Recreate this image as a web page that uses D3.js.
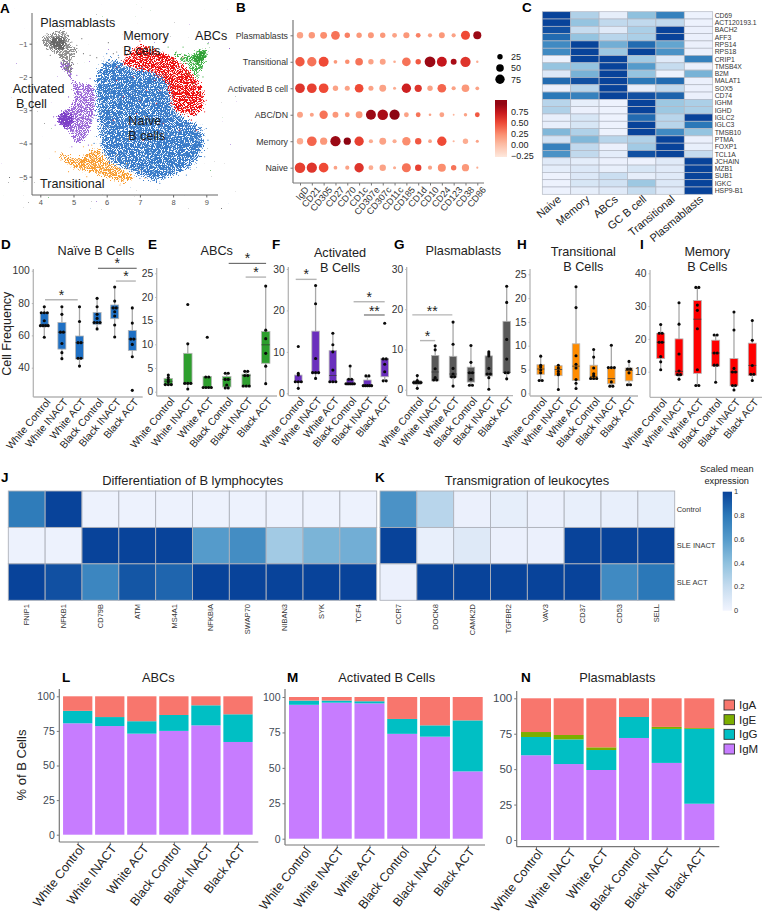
<!DOCTYPE html>
<html><head><meta charset="utf-8">
<script src="https://cdnjs.cloudflare.com/ajax/libs/d3/7.8.5/d3.min.js"></script>
<style>html,body{margin:0;padding:0;background:#fff}svg{display:block}text{font-family:"Liberation Sans",Arial,sans-serif}</style>
</head><body><svg id="c" width="764" height="918"></svg>
<script>
// ---------- DATA ----------
// A: hand-read outlines of each UMAP cluster (data coordinates) and hand-read stray cells
const umapBlue=[[5.65,-1.99],[5.9,-1.49],[6.25,-1.44],[6.7,-1.65],[7.3,-1.75],[7.9,-2.1],[8.0,-2.6],[8.1,-3.0],[8.4,-3.2],[8.91,-3.6],[8.96,-4.1],[8.71,-4.6],[8.11,-4.95],[7.4,-5.15],[6.8,-4.9],[6.0,-4.5],[5.8,-4.1],[5.7,-3.2]];
const umapRed=[[6.4,-1.62],[6.7,-1.19],[7.05,-.99],[7.6,-1.19],[8.1,-1.39],[8.71,-1.99],[8.96,-2.39],[8.86,-3.1],[8.5,-3.2],[8.0,-3.0],[7.85,-2.6],[7.75,-2.2],[7.3,-1.9],[6.7,-1.75]];
const umapGreen=[[7.9,-1.19],[8.5,-1.29],[8.81,-1.09],[9.06,-1.19],[8.91,-1.79],[8.71,-2.09],[8.41,-1.69]];
const umapOrange=[[4.49,-4.2],[5.09,-4.4],[5.7,-4.1],[6.1,-4.5],[6.9,-5],[6.6,-5.2],[5.6,-4.95],[4.94,-4.75],[4.55,-4.4]];
const umapPurple=[[4.54,-1.59],[4.94,-1.54],[5.04,-2.09],[5.6,-2.24],[5.65,-3.1],[5.35,-3.9],[5.04,-4.0],[4.8,-3.6],[4.5,-3.4],[4.55,-3.1],[4.94,-2.8],[4.9,-2.1]];
const umapGrey=[[4.04,-.79],[4.8,-.59],[4.95,-1],[5.2,-1.19],[5.04,-1.34],[4.94,-1.89],[4.74,-1.84],[4.54,-1.39],[4.09,-1.09]];
const umapGreyCore=[[4.3,-.85],[4.7,-.8],[4.75,-1.15],[4.5,-1.2],[4.3,-1.05]];
const umapPurpleCore=[[4.55,-3.1],[4.9,-3.05],[5.0,-3.4],[4.75,-3.55],[4.55,-3.4]];
const umapGreenCore=[[8.6,-1.4],[8.85,-1.2],[9.02,-1.22],[8.9,-1.55],[8.7,-1.6]];
const straysGrey=[[5.3,-1.3],[5.5,-1.35],[5.7,-1.42],[5.25,-.85],[6.05,-.97],[6.2,-1.3],[6.3,-1.25],[6.36,-1.42],[4.3,-1.35],[4.2,-.7],[4.95,-.95],[5.1,-1.05],[4.62,-1.55],[4.85,-1.95],[5.0,-1.62]];
const straysPurple=[[4.72,-1.5],[5.1,-1.95],[5.7,-2.6],[5.72,-3.3],[5.5,-2.05],[4.85,-2.6],[4.4,-3.2],[4.45,-3.45],[5.45,-4.05],[4.95,-4.1]];
const straysOrange=[[4.45,-4.25],[4.62,-4.5],[4.85,-4.85],[5.3,-4.1],[5.55,-4.05],[6.3,-4.35],[6.6,-4.6],[7.0,-4.8],[7.15,-5.05],[6.4,-5.25],[5.9,-5.1],[5.4,-5.0]];
const straysRed=[[6.3,-1.7],[6.55,-1.35],[8.3,-1.4],[9.0,-2.7],[8.95,-3.05],[7.2,-2.4],[6.9,-3.1],[7.5,-2.8],[7.0,-.92],[8.55,-3.3],[8.7,-3.6],[6.3,-2.1],[7.1,-3.9],[7.7,-3.4],[6.5,-2.6],[6.2,-3.3],[7.3,-3.3],[7.6,-2.4],[6.8,-2.0],[8.2,-3.6],[7.0,-2.7],[7.45,-2.1]];
const straysGreen=[[7.85,-1.1],[8.1,-1.25],[8.0,-1.5],[8.3,-1.1],[8.9,-2.0],[8.6,-2.2],[8.8,-2.45],[9.05,-1.0],[8.45,-1.9]];
const straysBlue=[[5.6,-2.4],[5.55,-3.3],[5.62,-4.0],[6.0,-1.3],[6.35,-1.35],[9.0,-3.55],[9.05,-3.9],[8.95,-4.4],[8.4,-4.95],[7.6,-5.2],[7.0,-5.05],[8.7,-3.15],[8.2,-2.9],[8.4,-2.6],[7.9,-2.2],[8.6,-3.0]];

// B
const dotGenes=["IgD","CD21","CD305","CD27","CD70","CD1c","CD307e","CD307c","CD11c","CD185","CD1d","CD10","CD24","CD123","CD38","CD86"];
const dotCells=["Plasmablasts","Transitional","Activated B cell","ABC/DN","Memory","Naive"];
const dotPct=[[35,35,40,65,25,25,30,25,20,32,20,15,30,15,70,55],[75,75,85,12,18,50,25,30,6,65,25,100,85,30,90,5],[80,80,80,25,22,65,22,40,8,75,45,25,65,15,50,12],[30,14,60,30,20,40,85,95,90,20,20,6,20,3,10,20],[35,80,45,90,45,75,15,40,15,60,35,12,75,4,25,8],[95,90,80,12,15,75,20,35,8,70,35,15,55,25,45,4]];
const dotVal=[[.15,.2,.25,.35,.3,.2,.2,.2,.15,.2,.3,.15,.2,.15,.5,.9],[.45,.35,.5,.2,.25,.35,.15,.15,.1,.35,.45,.9,.75,.85,.6,.1],[.6,.55,.5,.15,.15,.5,.15,.15,.1,.7,.6,.15,.4,.15,.2,.15],[.15,.15,.35,.2,.2,.2,.9,.85,.95,.15,.35,.15,.15,.05,.15,.45],[.1,.4,.2,.9,.95,.55,.1,.15,.1,.25,.45,.15,.5,.05,.1,.15],[.55,.6,.5,.15,.15,.6,.1,.15,.1,.35,.55,.15,.25,.35,.2,.1]];
const sizeLegend=[25,50,75];
const colorLegend=[.75,.5,.25,0,-.25];

// C
const cCols=["Naive","Memory","ABCs","GC B cell","Transitional","Plasmablasts"];
const cGenes=["CD69","ACT120193.1","BACH2","AFF3","RPS14","RPS18","CRIP1","TMSB4X","B2M","MALAT1","SOX5","CD74","IGHM","IGHD","IGLC2","IGLC3","TMSB10","PTMA","FOXP1","TCL1A","JCHAIN","MZB1","SUB1","IGKC","HSP9-B1"];
const cVals=[[1,.28,.05,.4,.75,.02],[1,.38,.22,.22,.22,.02],[.95,.2,.08,.3,1,.03],[.85,.38,.25,.3,1,.03],[.7,1,.5,.85,.55,.03],[.7,1,.35,1,.65,.03],[.02,1,1,.33,.08,.75],[.38,.38,1,.6,.2,.03],[.1,.48,1,.38,.02,.48],[.85,.95,1,.8,.85,.03],[.03,.25,1,.05,.22,.03],[.8,.75,1,.95,.88,.03],[.25,.05,.02,1,.35,.3],[.28,.03,.02,1,.35,.3],[.04,.12,.02,.85,.25,1],[.04,.12,.02,1,.25,.8],[.45,.28,.02,1,.7,.38],[.14,.45,.25,.28,1,.03],[.75,.22,.03,.33,1,.04],[.65,.22,.06,.95,1,.2],[.08,.06,.03,.02,.08,1],[.06,.1,.04,.12,.08,1],[.02,.1,.18,.05,.08,1],[.02,.12,.15,.35,.1,1],[.02,.05,.08,.2,.08,1]];

// D-I: each box [low whisker, q1, median, q3, high whisker, points]
const groups=["White Control","White INACT","White ACT","Black Control","Black INACT","Black ACT"];
const naiveBoxes=[[58.8,65.5,66.8,74,77.7,[77.7,74,74,74,69,66,66,66,66,58.8]],[45.6,51.5,62,68,77.7,[77.7,73,62,62,55,49.3,45.6]],[41,45.4,55.5,59.6,77.7,[77.7,68.6,55.5,55.5,45.8,45.8,41]],[64,66.8,68,74.2,82.9,[82.9,77.7,73,70.5,68,68,68,64]],[59,70.3,77,78.8,89.9,[89.9,81.2,77,77,74.6,72,66.4,59]],[46.8,50.7,57.7,63,77,[77,67.6,57.7,57.7,54.4,46.8,26]]];
const abcBoxes=[[1.4,1.4,2.2,2.8,3.5,[3.5,3,2.5,2.1,1.5,1.5,1.5]],[.56,1.55,1.76,8.1,10.1,[18.4,10.1,1.76,1.76,1.76,.56]],[.85,.85,.9,3.2,3.2,[11.5,3.1,3.1,.9,.9,.9,.9]],[.8,1,2.6,3.2,3.9,[3.9,3.9,2.6,2.6,1.4,.8,.8]],[1,1,3.4,3.7,4.3,[4.3,4.3,3.4,3.4,1.2,1.2,1.2]],[1.7,6,9.9,12.7,22.3,[22.3,13,11.2,8.1,5.4,1.7]]];
const actBoxes=[[1.2,2.65,2.8,4.4,4.8,[11.3,4.8,4.4,2.8,2.8,2.8,1.2]],[3.6,4.7,5,15,26,[26,21.6,8.4,5,5,5,3.6]],[2.8,2.65,4.3,10.3,14.5,[14.5,11.7,10,5.6,2.8,2.8,2.8]],[2,2,2.3,3.4,6.6,[6.6,3.4,3.4,2.3,2.3,2.3,2.3,2.3]],[1.7,1.7,1.85,3.2,4.2,[4.2,4.2,1.85,1.85,1.85,1.85,1.85]],[3,4,8.2,8.4,8.4,[16.9,8.3,8.3,7,5.2,3,3]]];
const plasmaBoxes=[[.33,1.3,1.8,2.3,3.5,[3.5,2.3,1.8,1.8,1.8,1.8,.33]],[2.4,2.2,4.4,8.5,10.9,[10.9,9.9,5.2,3,2.4,2.4]],[.9,3.1,3.9,8.3,16.8,[16.8,11.3,5.3,3.9,3.2,3.2,.9]],[1.1,1.9,4.2,5.6,11,[11,6.8,4.2,4.2,2.6,1.1,1.1]],[.1,3.4,3.9,8.4,9.4,[9.4,8.9,8.4,5.3,3.9,3.9,3,.1]],[2.7,4.2,4.3,17,25.7,[25.7,21.7,12.5,7.6,4.2,4.2,2.7]]];
const transBoxes=[[2.7,4,5.1,6,7.8,[7.8,5.9,5.5,4.9,4.3,2.7,2.7]],[.8,3.7,5,5.8,5.8,[5.9,5.3,4.6,4.1,3.9,.8]],[1,2.7,5.7,10.4,22.4,[22.4,18,7.9,6.1,5.3,2.9,2.1,1]],[2.9,2.9,3.5,5.9,9.2,[9.2,7.6,5.3,4.1,3.7,3.1,3.1,3.1]],[1.5,2,3.1,5.3,10.1,[10.1,5.4,5.4,5.4,2.4,1.5,1.5]],[1.8,2.6,4.8,5.3,6.7,[6.7,5.1,5.1,4.3,1.8,1.8]]];
const memBoxes=[[10.6,14,19,21.7,24.4,[24.4,21.7,21.7,19,19,14.6,13,10.6]],[7.7,8.9,10.1,20,31,[31,24.5,15.4,10.2,9.1,9.1,7.7]],[5.8,9.5,26,31.7,35.7,[35.7,35.7,30.3,28.7,23.1,10.6,5.8,5.8]],[6.8,11.7,15.7,19.6,21.2,[21.2,21.2,15.7,15.7,12,12,6.8]],[4.4,5.7,9.9,14,28.2,[28.2,22.7,11,9.9,9.9,5.8,5.8,4.4]],[7.3,8.9,11.9,18.7,25.6,[25.6,19.6,11.9,9.2,9.2,7.3]]];
// significance bars: [from group position, to group position, y value, label, dark?]
const naiveSig=[[.04,1.9,82,"*",0],[3.05,5.25,101.5,"*",1],[4.07,5.2,93.6,"*",0]];
const abcSig=[[3.1,5.02,27.1,"*",1],[3.97,5.02,24.2,"*",0]];
const actSig=[[-.15,1.06,27.5,"*",0],[3.2,5,22.1,"*",0],[3.8,5,18.9,"**",1]];
const plasmaSig=[[-.28,1.96,18.6,"**",0],[.15,1,12.2,"*",0]];

// J, K
const jGenes=["FNIP1","NFKB1","CD79B","ATM","MS4A1","NFKBIA","SWAP70","NIBAN3","SYK","TCF4"];
const jVals=[[.78,1,.02,.02,.02,.02,.02,.02,.02,.02],[.02,.02,1,1,1,.6,.68,.33,.47,.5],[1,.95,.72,.93,.87,1,1,1,1,1]];
const kGenes=["CCR7","DOCK8","CAMK2D","TGFBR2","VAV3","CD37","CD53","SELL"];
const kVals=[[.65,.25,.03,.05,.03,.04,.04,.05],[1,.04,.09,.03,.03,1,1,1],[.03,1,1,1,1,1,.7,.8]];
const sleRows=["Control","SLE INACT","SLE ACT"];
const heatTicks=[0,.2,.4,.6,.8,1];

// L, M, N: share of B cells per isotype
const isotypes=["IgA","IgE","IgG","IgM"];
const isoColors=["#F8766D","#7CAE00","#00BFC4","#C77CFF"];
const abcIgM=[80.5,78.5,73,75,79,67], abcIgG=[9,6.5,9,11.5,14.5,20], abcIgE=[0,0,0,0,0,0];
const actIgM=[94.5,96,95.5,74,72,47.5], actIgG=[3,1.5,1.5,10.5,8,36], actIgE=[0,0,0,0,0,0];
const plaIgM=[59.8,53.6,49.4,72,54.4,25.6], plaIgG=[12.9,17.4,14.1,14.8,24,52.8], plaIgE=[3.5,3.1,1.9,0,1.4,.6];

// ---------- DRAW ----------
const svg=d3.select("#c"), defs=svg.append("defs");
const txt=(x,y,s,o={})=>{const t=svg.append("text").attr("x",x).attr("y",y).text(s).attr("font-size",o.fs||10).attr("fill",o.fill||"#222").attr("text-anchor",o.a||"start");
  if(o.w)t.attr("font-weight",o.w); if(o.rot!=null)t.attr("transform",`rotate(${o.rot},${x},${y})`); if(o.dy)t.attr("dy",o.dy); return t;};
[["A",0,13],["B",236,12],["C",522,12],["D",1,249],["E",148,249],["F",272,249],["G",394,249],["H",517,249],["I",640,249],["J",1,482],["K",375,482],["L",62,682],["M",287,682],["N",521,682]]
 .forEach(d=>txt(d[1],d[2],d[0],{fs:13.5,w:"bold",fill:"#000"}));
function styleAxis(g,c,w,tc,fs){g.selectAll(".domain").attr("stroke",c).attr("stroke-width",w);g.selectAll(".tick line").attr("stroke",c);g.selectAll(".tick text").attr("fill",tc).attr("font-size",fs).attr("font-family",'"Liberation Sans",Arial,sans-serif');}

// ---- A
(function(){
 const x=d3.scaleLinear().domain([4,9]).range([40.3,206.3]), y=d3.scaleLinear().domain([-1,-5]).range([43.7,176.7]);
 const line=d3.line().x(d=>x(d[0])).y(d=>y(d[1])).curve(d3.curveCatmullRomClosed.alpha(.5));
 function speck(id,color,th,seed,blur,freq){
  const f=defs.append("filter").attr("id",id).attr("filterUnits","userSpaceOnUse").attr("x",0).attr("y",0).attr("width",240).attr("height",210).attr("color-interpolation-filters","sRGB");
  f.append("feGaussianBlur").attr("in","SourceAlpha").attr("stdDeviation",blur).attr("result","b");
  f.append("feTurbulence").attr("type","fractalNoise").attr("baseFrequency",freq).attr("numOctaves",2).attr("seed",seed).attr("result","t");
  f.append("feColorMatrix").attr("in","t").attr("type","matrix").attr("values","0 0 0 0 0  0 0 0 0 0  0 0 0 0 0  1 0 0 0 0").attr("result","n");
  f.append("feComposite").attr("in","b").attr("in2","n").attr("operator","arithmetic").attr("k1",0).attr("k2",.5).attr("k3",1).attr("k4",0).attr("result","s");
  const ct=f.append("feComponentTransfer").attr("in","s").attr("result","m");
  ct.append("feFuncA").attr("type","linear").attr("slope",12).attr("intercept",-12*(.5+th));
  f.append("feFlood").attr("flood-color",color);
  f.append("feComposite").attr("in2","m").attr("operator","in");
 }
 const layers=[[umapOrange,"#f8992a",.42,5,2.5,"spO"],[umapBlue,"#3a7cc9",.37,3,3,"spB"],[umapRed,"#ee1010",.41,7,2.5,"spR"],[umapGreen,"#3cb043",.42,9,2,"spG"],[umapGreenCore,"#2f9e35",.34,10,1.5,"spG2"],[umapPurple,"#8a4fd0",.43,11,1.6,"spP"],[umapPurpleCore,"#7d3fc8",.34,12,1.5,"spP2"],[umapGrey,"#7a7a7a",.43,13,1.8,"spY"],[umapGreyCore,"#666666",.33,14,1.5,"spY2"]];
 layers.forEach(l=>{speck(l[5],l[1],l[2],l[3],l[4],1.15);svg.append("path").attr("d",line(l[0])).attr("fill","#000").attr("filter",`url(#${l[5]})`);});
 [[straysGrey,"#777"],[straysPurple,"#8a4fd0"],[straysOrange,"#f9a13a"],[straysBlue,"#3a7cc9"],[straysRed,"#f01414"],[straysGreen,"#3cb043"]].forEach(s=>
  svg.append("g").selectAll("circle").data(s[0]).join("circle").attr("cx",d=>x(d[0])).attr("cy",d=>y(d[1])).attr("r",.6).attr("fill",s[1]));
 const ax=svg.append("g").attr("transform","translate(0,195)").call(d3.axisBottom(x).ticks(6).tickSize(2.5).tickPadding(2).tickSizeOuter(0));
 ax.select(".domain").attr("d","M32,0H218");
 styleAxis(ax,"#666",1,"#555",7.5);
 const ay=svg.append("g").attr("transform","translate(32,0)").call(d3.axisLeft(y).ticks(5).tickValues([-1,-2,-3,-4,-5]).tickSize(2.5).tickPadding(2).tickFormat(d3.format("d")).tickSizeOuter(0));
 ay.select(".domain").attr("d","M0,13V195");
 styleAxis(ay,"#666",1,"#555",7.5);
 [[40.3,26.7,"Plasmablasts"],[123.3,40,"Memory"],[123.3,55,"B cells"],[195,40,"ABCs"],[12.7,93,"Activated"],[16,108,"B cell"],[128.3,125,"Naïve"],[128.3,140,"B cells"],[40,188.3,"Transitional"]]
  .forEach(d=>txt(d[0],d[1],d[2],{fs:12.6,fill:"#1a1a1a"}));
})();

// ---- B
(function(){
 const x=d3.scalePoint().domain(dotGenes).range([300,477.3]), y=d3.scalePoint().domain(dotCells).range([35.3,167.7]);
 const r=d3.scaleSqrt().domain([0,100]).range([0,5.4]);
 const col=d3.scaleLinear().domain([-.25,0,.25,.5,.75,1]).range(["#fee5d9","#fcc0a8","#fb8e6f","#ef4a36","#c5161c","#7f0010"]);
 dotCells.forEach((c,i)=>svg.append("g").selectAll("circle").data(dotGenes).join("circle")
   .attr("cx",g=>x(g)).attr("cy",y(c)).attr("r",(g,j)=>r(dotPct[i][j])).attr("fill",(g,j)=>col(dotVal[i][j])));
 const ax=svg.append("g").attr("transform","translate(0,183)").call(d3.axisBottom(x).tickSize(2.5).tickSizeOuter(0));
 ax.select(".domain").attr("d","M293,0H484");styleAxis(ax,"#777",1.2,"#333",9.2);
 ax.selectAll(".tick text").attr("text-anchor","end").attr("dy",".35em").attr("transform","translate(4,3) rotate(-50)").attr("y",3).attr("x",0);
 const ay=svg.append("g").attr("transform","translate(293,0)").call(d3.axisLeft(y).tickSize(2.5).tickPadding(2.5).tickSizeOuter(0));
 ay.select(".domain").attr("d","M0,20V183");styleAxis(ay,"#777",1.2,"#333",8.8);
 const ly=d3.scalePoint().domain(sizeLegend).range([56.7,79.3]);
 sizeLegend.forEach(v=>{svg.append("circle").attr("cx",500).attr("cy",ly(v)).attr("r",r(v)).attr("fill","#000");txt(511,ly(v)+3.2,v,{fs:9});});
 const cy=d3.scaleLinear().domain([1.02,-.27]).range([100,157]);
 const g=defs.append("linearGradient").attr("id","reds").attr("x1",0).attr("y1",1).attr("x2",0).attr("y2",0);
 d3.range(-.27,1.03,.1).forEach(v=>g.append("stop").attr("offset",(v+.27)/1.29).attr("stop-color",col(v)));
 svg.append("rect").attr("x",495).attr("y",100).attr("width",12).attr("height",57).attr("fill","url(#reds)");
 colorLegend.forEach(v=>txt(511,cy(v)+3.2,d3.format(".2f")(v),{fs:9}));
})();

// ---- shared blues
const blues=d3.scaleLinear().domain([0,.2,.4,.6,.8,1]).range(["#f1f4fe","#c6dcef","#8fc1de","#559bcb","#2b78b8","#08439a"]);
function heat(vals,cols,rows,x0,x1,y0,y1,stroke,sw){
 const x=d3.scaleBand().domain(cols).range([x0,x1]), y=d3.scaleBand().domain(rows).range([y0,y1]);
 rows.forEach((r,i)=>svg.append("g").selectAll("rect").data(cols).join("rect").attr("x",c=>x(c)).attr("y",y(r))
   .attr("width",x.bandwidth()).attr("height",y.bandwidth()).attr("fill",(c,j)=>blues(vals[i][j])).attr("stroke",stroke).attr("stroke-width",sw));
 return {x,y};
}
// ---- C
(function(){
 const s=heat(cVals,cCols,cGenes,542.3,712.7,11.7,194.3,"#b3b8c4",.7);
 cGenes.forEach(g=>txt(714.7,s.y(g)+s.y.bandwidth()/2+2.4,g,{fs:6.8,fill:"#333"}));
 cCols.forEach(c=>{const px=s.x(c)+s.x.bandwidth()/2+3;txt(px,197.5,c,{fs:11,a:"end",rot:-40,fill:"#222",dy:".35em"});});
})();

// ---- D..I
function boxPanel(o){
 const x=d3.scalePoint().domain(groups).range([o.first,o.last]), step=x.step();
 const y=d3.scaleLinear().domain([o.v1,o.v2]).range([o.p1,o.p2]), bw=o.bw;
 const ax=svg.append("g").attr("transform",`translate(0,${o.bottom})`).call(d3.axisBottom(x).tickSize(2).tickSizeOuter(0).tickFormat(""));
 ax.select(".domain").attr("d",`M${o.left},0H${o.right}`);styleAxis(ax,"#b5b5b5",1.3,"#333",10);
 const ay=svg.append("g").attr("transform",`translate(${o.left},0)`).call(d3.axisLeft(y).tickValues(o.ticks).tickSize(1.5).tickPadding(2).tickSizeOuter(0));
 ay.select(".domain").attr("d",`M0,${o.top}V${o.bottom}`);styleAxis(ay,"#b5b5b5",1.3,"#333",10.3);
 groups.forEach(g=>txt(x(g)+4,o.bottom+3,g,{fs:10.3,a:"end",rot:-50,fill:"#222",dy:".35em"}));
 const bg=svg.append("g");
 o.data.forEach((d,i)=>{const cx=x(groups[i]);
  bg.append("line").attr("x1",cx).attr("x2",cx).attr("y1",y(d[0])).attr("y2",y(d[4])).attr("stroke","#a8a8a8").attr("stroke-width",1.3);
  bg.append("rect").attr("x",cx-bw/2).attr("width",bw).attr("y",y(d[3])).attr("height",y(d[1])-y(d[3])).attr("fill",o.color).attr("stroke","#b5b5b5").attr("stroke-width",.8);
  bg.append("line").attr("x1",cx-bw/2).attr("x2",cx+bw/2).attr("y1",y(d[2])).attr("y2",y(d[2])).attr("stroke","#333").attr("stroke-width",.7);
  // equal values sit side by side
  const cnt=d3.rollup(d[5],v=>v.length,v=>v), seen=new Map();
  d[5].forEach(v=>{const n=cnt.get(v),k=seen.get(v)||0;seen.set(v,k+1);
   bg.append("circle").attr("cx",cx+(k-(n-1)/2)*Math.min(3,bw/Math.max(n,1)+.6)).attr("cy",y(v)).attr("r",1.55).attr("fill","#0a0a0a");});
 });
 (o.sig||[]).forEach(s=>{const a=o.first+s[0]*step,b=o.first+s[1]*step,py=y(s[2]);
  svg.append("line").attr("x1",a).attr("x2",b).attr("y1",py).attr("y2",py).attr("stroke",s[4]?"#555":"#b5b5b5").attr("stroke-width",s[4]?1:1.4);
  txt((a+b)/2,py+(s[3]==="**"?1:0),s[3],{fs:14,a:"middle",fill:"#222"});});
 o.title.forEach((t,i)=>txt(o.tx,o.ty+i*15.4,t,{fs:12.7,a:"middle",fill:"#222"}));
}
boxPanel({data:naiveBoxes,color:"#1f70c4",first:44.3,last:132.3,v1:100,p1:270.7,v2:40,p2:367.7,left:33.3,right:142.7,top:269,bottom:397,bw:8,ticks:[40,60,80,100],sig:naiveSig,title:["Naïve B Cells"],tx:96,ty:255});
boxPanel({data:abcBoxes,color:"#2e9e2e",first:168.3,last:265.7,v1:25,p1:273.3,v2:0,p2:391.7,left:156.7,right:277,top:268,bottom:396,bw:8.5,ticks:[0,5,10,15,20,25],sig:abcSig,title:["ABCs"],tx:216.7,ty:255});
boxPanel({data:actBoxes,color:"#6a2fbd",first:298.3,last:384.7,v1:30,p1:269,v2:0,p2:393.3,left:288.3,right:388,top:267,bottom:395.7,bw:7.5,ticks:[0,10,20,30],sig:actSig,title:["Activated","B Cells"],tx:340,ty:257});
boxPanel({data:plasmaBoxes,color:"#595959",first:417.3,last:506.7,v1:30,p1:269,v2:0,p2:389.7,left:406.7,right:513,top:267,bottom:395.7,bw:7.5,ticks:[0,10,20,30],sig:plasmaSig,title:["Plasmablasts"],tx:463.3,ty:255});
boxPanel({data:transBoxes,color:"#ff8c00",first:540.7,last:629,v1:25,p1:274.3,v2:0,p2:393.3,left:530,right:638,top:269,bottom:396,bw:7.5,ticks:[0,5,10,15,20,25],title:["Transitional","B Cells"],tx:583.3,ty:255.5});
boxPanel({data:memBoxes,color:"#ff0000",first:660.7,last:752.3,v1:40,p1:273.3,v2:10,p2:371.7,left:650,right:762,top:270,bottom:397.3,bw:8,ticks:[10,20,30,40],title:["Memory","B Cells"],tx:707.3,ty:255.5});
txt(11,333.7,"Cell Frequency",{fs:12.5,a:"middle",rot:-90,fill:"#222"});

// ---- J, K
(function(){
 const a=heat(jVals,jGenes,sleRows,8.3,376.7,491,600.3,"#aeb2bb",.9);
 jGenes.forEach(g=>txt(a.x(g)+a.x.bandwidth()/2+2.5,604,g,{fs:7.5,a:"end",rot:-90,fill:"#333"}));
 txt(192.7,485,"Differentiation of B lymphocytes",{fs:12.9,a:"middle",fill:"#222"});
 const b=heat(kVals,kGenes,sleRows,380,674.7,491,600.3,"#aeb2bb",.9);
 kGenes.forEach(g=>txt(b.x(g)+b.x.bandwidth()/2+2.5,604,g,{fs:7.5,a:"end",rot:-90,fill:"#333"}));
 txt(527,485,"Transmigration of leukocytes",{fs:12.9,a:"middle",fill:"#222"});
 sleRows.forEach(r=>txt(676.7,b.y(r)+b.y.bandwidth()/2+2.5,r,{fs:7.5,fill:"#333"}));
 txt(726.7,472,"Scaled mean",{fs:9.2,a:"middle"});txt(726.7,484,"expression",{fs:9.2,a:"middle"});
 const g=defs.append("linearGradient").attr("id","blu").attr("x1",0).attr("y1",1).attr("x2",0).attr("y2",0);
 heatTicks.forEach(v=>g.append("stop").attr("offset",v).attr("stop-color",blues(v)));
 svg.append("rect").attr("x",722.7).attr("y",491.7).attr("width",9.3).attr("height",119).attr("fill","url(#blu)");
 const cy=d3.scaleLinear().domain([0,1]).range([610.5,491.7]);
 heatTicks.forEach(v=>txt(734,cy(v)+2.6,v,{fs:7.5,fill:"#333"}));
})();

// ---- L, M, N
function stackPanel(o){
 const cx=d3.scalePoint().domain(groups).range([o.first,o.last]);
 const y=d3.scaleLinear().domain([0,100]).range([o.p0,o.p100]);
 const rows=groups.map((g,i)=>({g,IgM:o.m[i],IgG:o.g[i],IgE:o.e[i],IgA:100-o.m[i]-o.g[i]-o.e[i]}));
 const st=d3.stack().keys(["IgM","IgG","IgE","IgA"])(rows);
 st.forEach(s=>svg.append("g").selectAll("rect").data(s).join("rect").attr("x",d=>cx(d.data.g)-o.bw/2).attr("width",o.bw)
   .attr("y",d=>y(d[1])).attr("height",d=>y(d[0])-y(d[1])).attr("fill",isoColors[isotypes.indexOf(s.key)]));
 const ax=svg.append("g").attr("transform",`translate(0,${o.bottom})`).call(d3.axisBottom(cx).tickSize(2.5).tickSizeOuter(0).tickFormat(""));
 ax.select(".domain").attr("d",`M${o.left},0H${o.right}`);styleAxis(ax,"#777",1.2,"#333",10);
 const ay=svg.append("g").attr("transform",`translate(${o.left},0)`).call(d3.axisLeft(y).tickValues([0,25,50,75,100]).tickSize(2.5).tickPadding(2).tickSizeOuter(0));
 ay.select(".domain").attr("d",`M0,${o.top}V${o.bottom}`);styleAxis(ay,"#777",1.2,"#3f4a55",o.tfs||10.5);
 groups.forEach(g=>txt(cx(g)+4,o.bottom+4,g,{fs:12.4,a:"end",rot:-52,fill:"#222",dy:".35em"}));
 txt(o.tx,682,o.title,{fs:12.8,a:"middle",fill:"#222"});
}
stackPanel({m:abcIgM,g:abcIgG,e:abcIgE,first:77.7,last:238,bw:29.3,p0:834.7,p100:696.3,left:59.3,right:258.3,top:689,bottom:842,title:"ABCs",tx:158.3});
stackPanel({m:actIgM,g:actIgG,e:actIgE,first:304,last:467.7,bw:30,p0:838.7,p100:697,left:285,right:485,top:689,bottom:845,title:"Activated B Cells",tx:386.7});
stackPanel({m:plaIgM,g:plaIgG,e:plaIgE,first:536,last:699.3,bw:30,p0:840,p100:698.3,left:516.7,right:719.3,top:691,bottom:846.7,title:"Plasmablasts",tx:617.3,tfs:11.5});
txt(26,765,"% of B Cells",{fs:13,a:"middle",rot:-90,fill:"#222"});
const ly=d3.scalePoint().domain(isotypes).range([705,749]);
isotypes.forEach((k,i)=>{svg.append("rect").attr("x",724).attr("y",ly(k)-5).attr("width",10.5).attr("height",10).attr("fill",isoColors[i]).attr("stroke","#333").attr("stroke-width",.9);
 txt(739,ly(k)+4,k,{fs:11.5,fill:"#222"});});
</script></body></html>
